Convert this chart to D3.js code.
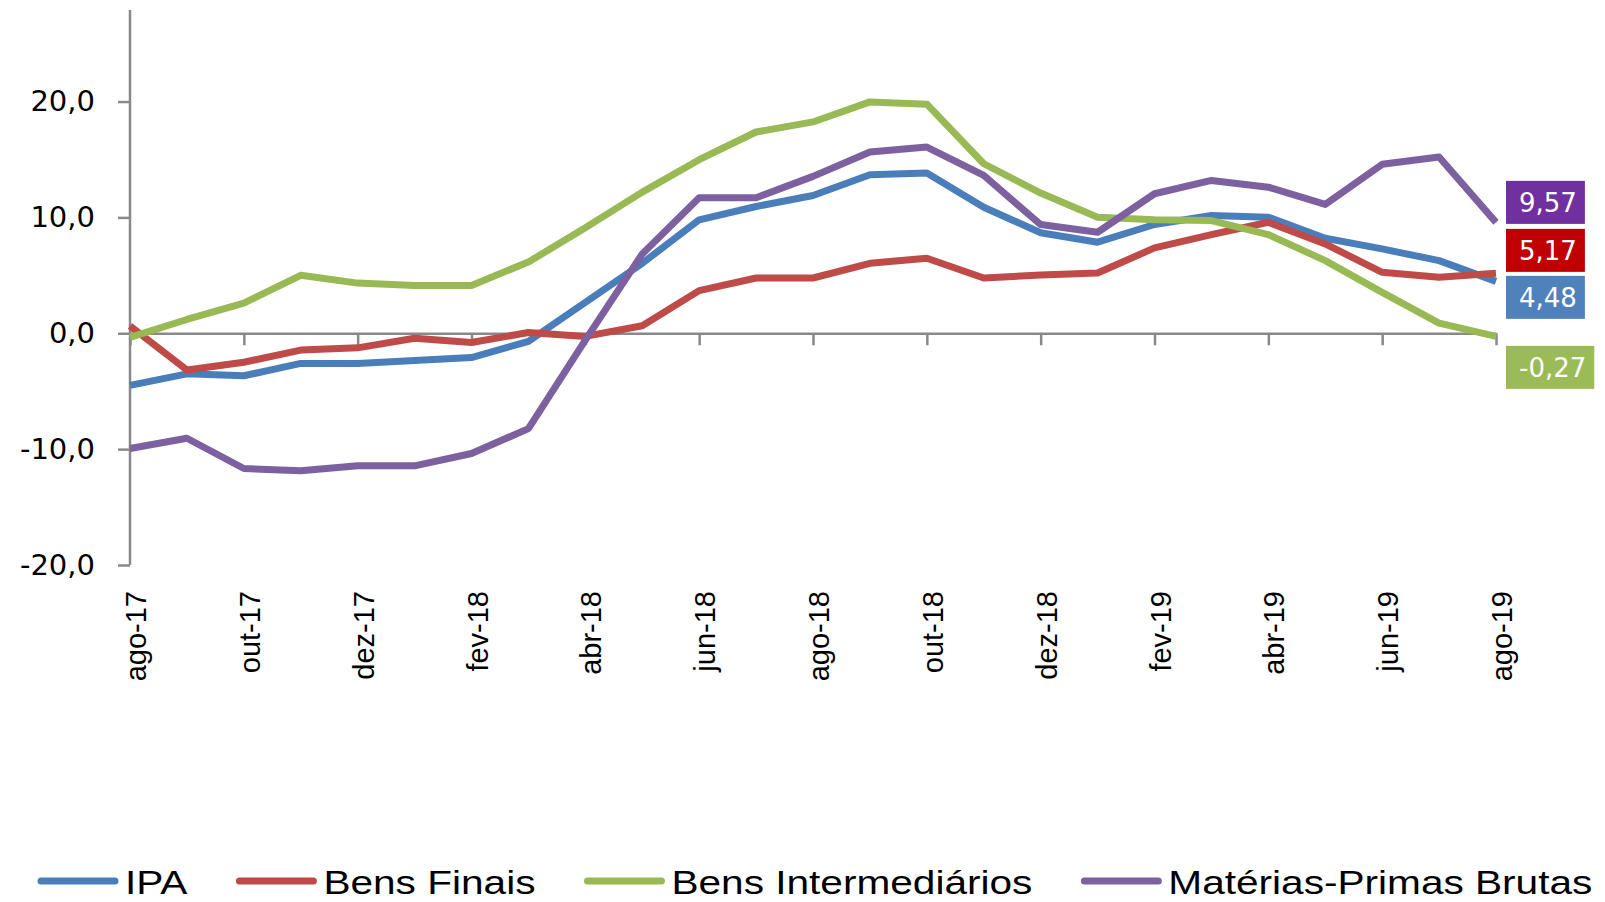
<!DOCTYPE html>
<html>
<head>
<meta charset="utf-8">
<script src="https://cdn.jsdelivr.net/npm/d3@7"></script>
<style>
  body { margin: 0; background: #fff; }
  svg { display: block; }
</style>
</head>
<body>
<div id="chart"></div>
<script>
// months (ago-17 .. ago-19)
var months = ["ago-17","set-17","out-17","nov-17","dez-17","jan-18","fev-18","mar-18","abr-18","mai-18","jun-18","jul-18",
              "ago-18","set-18","out-18","nov-18","dez-18","jan-19","fev-19","mar-19","abr-19","mai-19","jun-19","jul-19","ago-19"];

var seriesNames = ["IPA", "Bens Finais", "Bens Intermediários", "Matérias-Primas Brutas"];

var ipa = [-4.5, -3.5, -3.67, -2.6, -2.6, -2.35, -2.1, -0.7, 2.66, 6.04, 9.79, 10.94, 11.89,
           13.68, 13.83, 10.88, 8.68, 7.86, 9.39, 10.16, 10.02, 8.2, 7.28, 6.27, 4.48];
var bensFinais = [0.63, -3.17, -2.5, -1.45, -1.26, -0.43, -0.8, 0.07, -0.27, 0.65, 3.68, 4.77, 4.77,
                  6.04, 6.47, 4.77, 5.02, 5.2, 7.37, 8.52, 9.58, 7.71, 5.26, 4.83, 5.17];
var bensInter = [-0.36, 1.19, 2.6, 5.0, 4.33, 4.13, 4.13, 6.15, 9.1, 12.18, 14.98, 17.37, 18.24,
                 19.97, 19.77, 14.63, 12.1, 10.02, 9.79, 9.73, 8.52, 6.27, 3.53, 0.88, -0.27];
var materias = [-9.95, -9.06, -11.67, -11.87, -11.44, -11.44, -10.38, -8.23, -0.6, 6.85, 11.7, 11.7, 13.54,
                15.64, 16.07, 13.62, 9.38, 8.72, 12.04, 13.19, 12.61, 11.12, 14.58, 15.21, 9.57];

var lastLabels = ["4,48", "5,17", "-0,27", "9,57"];
var yTicks = [-20, -10, 0, 10, 20];

var lineColors = ["#4A7EBB", "#BE4B48", "#98B954", "#7D60A0"];
var boxColors = ["#4F81BD", "#C00000", "#9BBB59", "#7030A0"];
// vertical nudge of the end boxes (px), so they don't overlap
var boxShift = [16, -23, 31, -20];

var W = 1605, H = 902;
var allSeries = [ipa, bensFinais, bensInter, materias];

// pt-BR style numbers, plain hyphen for minus
var ptBR = d3.formatLocale({decimal: ",", thousands: ".", grouping: [3], currency: ["R$", ""], minus: "-"});
var fmt = ptBR.format(".1f");

var svg = d3.select("#chart").append("svg")
  .attr("width", W)
  .attr("height", H);

var x = d3.scaleLinear().domain([0, months.length - 1]).range([130, 1496]);
var y = d3.scaleLinear().domain([-20, 27.9]).range([565, 10]);

var axisColor = "#898989";

// y axis
var yAxis = svg.append("g").attr("transform", "translate(130,0)")
  .call(d3.axisLeft(y).tickValues(yTicks).tickSize(12).tickFormat(fmt));
yAxis.select(".domain").attr("d", "M0," + y.range()[1] + "V" + y.range()[0]);
yAxis.selectAll("path,line").attr("stroke", axisColor).attr("stroke-width", 2.5);
yAxis.selectAll("text")
  .attr("x", -35)
  .attr("font-family", "DejaVu Sans")
  .attr("font-size", "29px")
  .attr("fill", "#000");

// x axis at zero
var evenIdx = d3.range(0, months.length, 2);
var xAxis = svg.append("g").attr("transform", "translate(0," + y(0) + ")")
  .call(d3.axisBottom(x).tickValues(evenIdx).tickSize(12).tickSizeOuter(0).tickFormat(""));
xAxis.selectAll("path,line").attr("stroke", axisColor).attr("stroke-width", 2.5);

// month labels under the plot, rotated
svg.append("g").selectAll("text")
  .data(evenIdx)
  .enter()
  .append("text")
  .attr("transform", function(i) { return "translate(" + (x(i) + 16) + ",591) rotate(-90)"; })
  .attr("text-anchor", "end")
  .attr("font-family", "Liberation Sans")
  .attr("font-size", "29px")
  .attr("fill", "#000")
  .text(function(i) { return months[i]; });

// lines
var line = d3.line()
  .x(function(d, i) { return x(i); })
  .y(function(d) { return y(d); });

svg.append("g").selectAll("path")
  .data(allSeries)
  .enter()
  .append("path")
  .attr("d", line)
  .attr("fill", "none")
  .attr("stroke", function(d, i) { return lineColors[i]; })
  .attr("stroke-width", 7)
  .attr("stroke-linejoin", "round");

// end value boxes
var last = months.length - 1;
var boxes = svg.append("g").selectAll("g")
  .data(allSeries)
  .enter()
  .append("g")
  .attr("transform", function(d, i) {
    return "translate(" + (x(last) + 10) + "," + (y(d[last]) + boxShift[i]) + ")";
  });
boxes.append("rect")
  .attr("y", -21.5)
  .attr("height", 43)
  .attr("fill", function(d, i) { return boxColors[i]; });
boxes.append("text")
  .attr("x", 13)
  .attr("y", 0)
  .attr("dy", "0.36em")
  .attr("font-family", "DejaVu Sans")
  .attr("font-size", "26px")
  .attr("fill", "#fff")
  .text(function(d, i) { return lastLabels[i]; });
boxes.each(function() {
  var g = d3.select(this);
  var tw = g.select("text").node().getComputedTextLength();
  g.select("rect").attr("width", tw + 21);
});

// legend
var legend = svg.append("g");
var sx = 1.23;
var cursor = 37;
seriesNames.forEach(function(name, i) {
  var it = legend.append("g");
  it.append("line")
    .attr("x1", cursor + 4).attr("x2", cursor + 78)
    .attr("y1", 881).attr("y2", 881)
    .attr("stroke", lineColors[i])
    .attr("stroke-width", 7)
    .attr("stroke-linecap", "round");
  var t = it.append("text")
    .attr("transform", "translate(" + (cursor + 88) + ",894) scale(" + sx + ",1)")
    .attr("font-family", "Liberation Sans")
    .attr("font-size", "33px")
    .attr("fill", "#000")
    .text(name);
  cursor = cursor + 88 + t.node().getComputedTextLength() * sx + 48;
});
</script>
</body>
</html>
